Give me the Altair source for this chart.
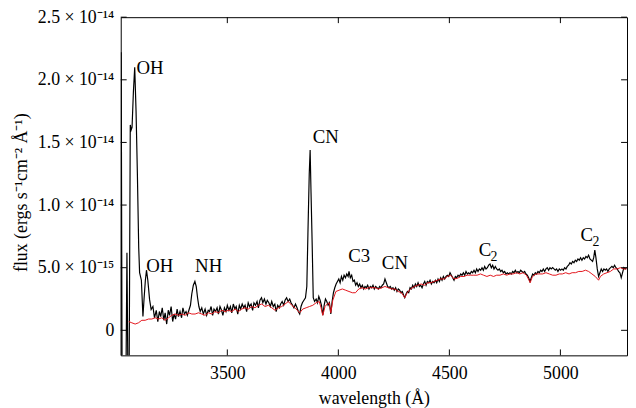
import altair as alt
import pandas as pd

# ---------------- data (flux in units of 1e-15 erg s^-1 cm^-2 A^-1) ----------------
obs_wl = [3019, 3022, 3026, 3030, 3044, 3048, 3052, 3058, 3063, 3067, 3071, 3077, 3083, 3089,
          3095, 3101, 3105, 3113, 3120, 3125, 3131, 3136, 3142, 3150, 3157, 3165, 3172, 3180,
          3187, 3194, 3200, 3207, 3214, 3220, 3227, 3234, 3240, 3247, 3254, 3260, 3267, 3274,
          3280, 3287, 3294, 3300, 3307, 3314, 3320, 3327, 3334, 3340, 3347, 3354, 3360, 3366,
          3372, 3378, 3385, 3392, 3400, 3407, 3414, 3420, 3427, 3434, 3440, 3447, 3454, 3460,
          3467, 3474, 3480, 3487, 3494, 3500, 3507, 3514, 3520, 3527, 3534, 3540, 3547, 3554,
          3560, 3567, 3574, 3580, 3587, 3594, 3600, 3607, 3614, 3620, 3627, 3634, 3640, 3647,
          3654, 3660, 3667, 3674, 3680, 3687, 3694, 3700, 3707, 3714, 3720, 3727, 3734, 3740,
          3747, 3754, 3760, 3767, 3774, 3781, 3787, 3794, 3800, 3807, 3814, 3820, 3826, 3832,
          3838, 3845, 3852, 3858, 3863, 3869, 3873, 3877, 3882, 3887, 3893, 3900, 3906, 3912,
          3918, 3924, 3930, 3936, 3942, 3948, 3954, 3960, 3966, 3972, 3978, 3984, 3990, 3996,
          4002, 4008, 4014, 4020, 4026, 4032, 4038, 4044, 4048, 4054, 4060, 4066, 4072, 4078,
          4084, 4090, 4096, 4102, 4108, 4114, 4120, 4126, 4132, 4138, 4144, 4150, 4156, 4162,
          4168, 4174, 4180, 4186, 4192, 4198, 4204, 4210, 4216, 4222, 4228, 4234, 4240, 4246,
          4252, 4258, 4264, 4270, 4276, 4282, 4288, 4294, 4299, 4305, 4311, 4317, 4323, 4329,
          4335, 4341, 4347, 4353, 4359, 4365, 4371, 4377, 4383, 4389, 4395, 4401, 4407, 4413,
          4419, 4425, 4431, 4437, 4443, 4449, 4455, 4461, 4467, 4473, 4479, 4485, 4491, 4497,
          4503, 4509, 4515, 4521, 4527, 4533, 4539, 4545, 4551, 4557, 4563, 4569, 4575, 4581,
          4587, 4593, 4599, 4605, 4611, 4617, 4623, 4629, 4635, 4641, 4647, 4653, 4659, 4665,
          4671, 4677, 4683, 4689, 4695, 4701, 4707, 4713, 4719, 4725, 4731, 4737, 4743, 4749,
          4755, 4761, 4767, 4773, 4779, 4785, 4791, 4797, 4803, 4809, 4815, 4821, 4827, 4833,
          4839, 4845, 4851, 4857, 4863, 4869, 4875, 4881, 4887, 4893, 4899, 4905, 4911, 4917,
          4923, 4929, 4935, 4941, 4947, 4953, 4959, 4965, 4971, 4977, 4983, 4989, 4995, 5001,
          5007, 5013, 5019, 5025, 5031, 5037, 5043, 5049, 5055, 5061, 5067, 5073, 5079, 5085,
          5091, 5097, 5103, 5109, 5115, 5121, 5127, 5133, 5139, 5145, 5150, 5155, 5160, 5166,
          5172, 5178, 5184, 5190, 5196, 5202, 5208, 5214, 5220, 5226, 5232, 5238, 5244, 5250,
          5256, 5262, 5268, 5274, 5280, 5286, 5292, 5298]
obs_flux = [-3.0, 22.2, -3.0, -3.0, -3.0, 6.2, -3.0, -3.0, 16.4, 16.0, 16.2, 19.0, 21.0, 17.5,
            12.5, 6.6, 4.6, 4.0, 1.1, 2.5, 4.0, 4.8, 4.0, 2.45, 1.66, 1.9, 1.0, 1.6,
            0.7, 1.5, 1.1, 1.8, 0.8, 1.4, 0.5, 1.6, 1.2, 1.9, 0.7, 1.3, 0.9, 1.7,
            1.1, 1.5, 1.0, 1.8, 1.3, 1.5, 1.2, 1.6, 2.0, 2.9, 3.6, 3.9, 3.5, 2.6,
            1.9, 1.5, 1.8, 1.3, 1.7, 1.2, 1.6, 1.5, 1.9, 1.2, 1.7, 1.5, 1.8, 1.3,
            1.9, 1.6, 1.2, 1.8, 1.5, 2.0, 1.6, 1.9, 1.4, 2.1, 1.7, 1.9, 1.3, 2.0,
            1.7, 2.1, 1.8, 2.0, 1.5, 2.2, 1.9, 2.1, 1.6, 2.2, 2.0, 2.3, 1.8, 2.4,
            2.6, 2.2, 2.5, 2.1, 2.4, 2.2, 1.9, 2.3, 1.9, 2.1, 1.5, 2.0, 1.8, 2.1,
            2.3, 2.0, 2.4, 2.6, 2.3, 2.5, 2.2, 2.0, 1.8, 2.1, 1.8, 1.5, 1.3, 1.9,
            2.2, 2.4, 2.6, 3.5, 7.7, 12.5, 14.4, 11.0, 7.0, 2.6, 2.3, 2.5, 2.2, 2.7,
            2.4, 2.0, 1.2, 2.0, 2.5, 2.3, 2.0, 2.2, 1.3, 2.3, 3.0, 3.4, 3.7, 3.9,
            4.1, 3.8, 4.3, 4.0, 4.4, 4.2, 4.5, 4.3, 4.7, 4.2, 4.4, 3.9, 4.0, 3.6,
            3.8, 3.5, 3.7, 3.4, 3.6, 3.3, 3.5, 3.4, 3.6, 3.3, 3.5, 3.4, 3.6, 3.3,
            3.5, 3.4, 3.3, 3.5, 3.4, 3.6, 3.7, 4.1, 3.8, 3.5, 3.4, 3.5, 3.3, 3.4,
            3.2, 3.4, 3.1, 3.3, 3.2, 3.0, 3.1, 2.8, 2.6, 2.9, 3.1, 3.0, 3.4, 3.3,
            3.6, 3.4, 3.7, 3.5, 3.8, 3.5, 3.6, 3.4, 3.7, 3.9, 3.6, 3.9, 3.8, 4.0,
            3.7, 3.9, 3.8, 4.0, 3.8, 4.1, 3.9, 4.2, 4.0, 4.3, 4.1, 4.3, 4.4, 4.3,
            4.6, 4.4, 4.2, 4.0, 4.3, 4.2, 4.4, 4.3, 4.5, 4.4, 4.6, 4.4, 4.7, 4.5,
            4.6, 4.5, 4.7, 4.6, 4.8, 4.6, 4.9, 4.7, 4.9, 4.8, 5.0, 4.8, 5.1, 4.9,
            5.0, 5.2, 5.3, 5.0, 5.2, 4.9, 5.1, 4.9, 4.8, 4.9, 4.7, 4.8, 4.6, 4.7,
            4.5, 4.6, 4.5, 4.6, 4.5, 4.7, 4.6, 4.8, 4.6, 4.7, 4.6, 4.8, 4.7, 4.6,
            4.7, 4.5, 4.4, 4.2, 3.9, 4.2, 4.5, 4.4, 4.6, 4.5, 4.7, 4.6, 4.8, 4.7,
            4.9, 4.7, 4.9, 5.0, 4.8, 5.0, 4.9, 5.0, 4.9, 4.8, 4.9, 4.7, 4.9, 4.8,
            4.9, 4.8, 5.0, 4.9, 5.1, 5.2, 5.4, 5.3, 5.5, 5.4, 5.6, 5.5, 5.7, 5.6,
            5.8, 5.6, 5.8, 5.7, 5.9, 5.8, 6.0, 5.7, 5.6, 5.5, 5.8, 6.4, 5.8, 4.9,
            4.3, 4.6, 4.9, 4.7, 4.9, 4.8, 4.9, 4.7, 4.9, 5.0, 5.1, 5.0, 5.2, 5.0,
            4.9, 4.7, 4.6, 4.2, 4.6, 5.0, 4.9, 5.0]

sun_wl = [3056, 3070, 3085, 3100, 3115, 3130, 3145, 3160, 3175, 3190, 3205, 3220, 3235, 3250,
          3265, 3280, 3295, 3310, 3325, 3340, 3355, 3370, 3385, 3400, 3415, 3430, 3445, 3460,
          3475, 3490, 3505, 3520, 3535, 3550, 3565, 3580, 3595, 3610, 3625, 3640, 3655, 3670,
          3685, 3700, 3715, 3730, 3745, 3760, 3775, 3790, 3805, 3815, 3826, 3840, 3855, 3870,
          3885, 3900, 3914, 3922, 3930, 3940, 3950, 3959, 3966, 3975, 3989, 4003, 4018, 4033,
          4048, 4063, 4077, 4092, 4107, 4122, 4136, 4151, 4166, 4181, 4196, 4210, 4225, 4240,
          4255, 4270, 4284, 4292, 4299, 4310, 4325, 4343, 4358, 4373, 4388, 4403, 4418, 4432,
          4447, 4462, 4477, 4491, 4506, 4521, 4536, 4551, 4566, 4580, 4595, 4610, 4625, 4640,
          4654, 4669, 4684, 4699, 4713, 4728, 4743, 4758, 4773, 4787, 4802, 4817, 4832, 4847,
          4856, 4864, 4872, 4880, 4891, 4906, 4920, 4935, 4950, 4965, 4980, 4995, 5009, 5024,
          5039, 5053, 5068, 5083, 5098, 5113, 5127, 5142, 5157, 5167, 5172, 5180, 5195, 5210,
          5225, 5240, 5255, 5270, 5285, 5298]
sun_flux = [0.7, 0.6, 0.5, 0.6, 0.8, 0.8, 0.9, 0.9, 1.0, 0.9, 1.0, 0.8, 1.0, 1.2,
            1.3, 1.2, 1.3, 1.2, 1.4, 1.3, 1.3, 1.4, 1.3, 1.2, 1.4, 1.3, 1.5, 1.4,
            1.6, 1.5, 1.6, 1.5, 1.7, 1.5, 1.7, 1.8, 1.7, 1.9, 1.8, 2.0, 2.1, 1.9,
            2.0, 1.8, 1.6, 1.8, 1.9, 2.1, 2.3, 2.0, 1.8, 1.6, 1.4, 1.7, 1.8, 1.9,
            2.0, 2.2, 2.3, 1.8, 1.2, 1.9, 2.1, 2.2, 1.4, 2.4, 3.1, 3.2, 3.3, 3.2,
            3.1, 3.0, 3.0, 3.3, 3.4, 3.3, 3.4, 3.4, 3.4, 3.3, 3.4, 3.5, 3.4, 3.3,
            3.3, 3.1, 3.0, 2.8, 2.6, 3.0, 3.3, 3.5, 3.6, 3.7, 3.6, 3.8, 3.8, 3.9,
            4.0, 4.1, 4.1, 4.3, 4.4, 4.1, 4.15, 4.3, 4.3, 4.4, 4.4, 4.4, 4.4, 4.5,
            4.4, 4.3, 4.4, 4.3, 4.4, 4.4, 4.5, 4.4, 4.5, 4.5, 4.6, 4.5, 4.6, 4.4,
            4.1, 3.8, 4.2, 4.4, 4.5, 4.5, 4.5, 4.6, 4.5, 4.4, 4.4, 4.5, 4.5, 4.6,
            4.5, 4.6, 4.6, 4.7, 4.7, 4.8, 4.7, 4.5, 4.3, 4.1, 4.0, 4.3, 4.5, 4.6,
            4.7, 4.9, 4.9, 5.0, 4.9, 4.9]

x_tick_values = [3500, 4000, 4500, 5000]
y_tick_values = [0, 5, 10, 15, 20, 25]
y_tick_labels = ["0", "5.0 × 10⁻¹⁵", "1.0 × 10⁻¹⁴", "1.5 × 10⁻¹⁴", "2.0 × 10⁻¹⁴", "2.5 × 10⁻¹⁴"]

label_text = ["OH", "OH", "NH", "CN", "C3", "CN", "C", "C"]
label_sub = ["", "", "", "", "", "", "2", "2"]
label_wl = [3091, 3135, 3355, 3885, 4045, 4196, 4632, 5091]
label_flux = [20.9, 5.1, 5.1, 15.4, 5.9, 5.4, 6.4, 7.6]

# ---------------- chart ----------------
W, H = 512, 342
SERIF = "Liberation Serif"

obs = pd.DataFrame({"wl": obs_wl, "flux": obs_flux})
sun = pd.DataFrame({"wl": sun_wl, "flux": sun_flux})
labels = pd.DataFrame({"wl": label_wl, "flux": label_flux, "text": label_text, "sub": label_sub})
xt = pd.DataFrame({"wl": x_tick_values})
yt = pd.DataFrame({"flux": y_tick_values})

xscale = alt.Scale(domain=[3020, 5300], nice=False, zero=False)
yscale = alt.Scale(domain=[-2, 25], nice=False, zero=False)

label_expr = " : ".join(
    f"datum.value == {v} ? '{t}'" for v, t in zip(y_tick_values, y_tick_labels)
) + " : ''"

xaxis = alt.Axis(values=x_tick_values, format="d", ticks=False, domain=False, grid=False,
                 labelFont=SERIF, labelFontSize=18, labelColor="black", labelPadding=9,
                 title="wavelength (Å)", titleFont=SERIF, titleFontSize=18,
                 titleFontWeight="normal", titleColor="black", titlePadding=8)
yaxis = alt.Axis(values=y_tick_values, ticks=False, domain=False, grid=False,
                 labelExpr=label_expr, labelFont=SERIF, labelFontSize=18,
                 labelColor="black", labelPadding=7,
                 title="flux (ergs s⁻¹cm⁻² Å⁻¹)", titleFont=SERIF, titleFontSize=18,
                 titleFontWeight="normal", titleColor="black",
                 titleAngle=270, titleBaseline="middle", titleAlign="center",
                 titleX=-100, titleY=177)

X = alt.X("wl:Q", scale=xscale, axis=xaxis)
Y = alt.Y("flux:Q", scale=yscale, axis=yaxis)

black = alt.Chart(obs).mark_line(color="black", strokeWidth=1.2, clip=True).encode(x=X, y=Y)
red = alt.Chart(sun).mark_line(color="#e3141b", strokeWidth=1.0, clip=True).encode(x=X, y=Y)

txt = alt.Chart(labels).mark_text(align="left", baseline="middle", font=SERIF,
                                  fontSize=19, color="black").encode(x=X, y=Y, text="text:N")
sub = alt.Chart(labels).transform_filter("datum.sub != ''").mark_text(
    align="left", baseline="middle", font=SERIF, fontSize=14, color="black",
    dx=12, dy=7).encode(x=X, y=Y, text="sub:N")

tick_b = alt.Chart(xt).mark_rule(color="black", strokeWidth=1).encode(
    x=alt.X("wl:Q", scale=xscale, axis=xaxis), y=alt.value(H), y2=alt.value(H - 6))
tick_t = alt.Chart(xt).mark_rule(color="black", strokeWidth=1).encode(
    x=alt.X("wl:Q", scale=xscale, axis=xaxis), y=alt.value(0), y2=alt.value(6))
tick_l = alt.Chart(yt).mark_rule(color="black", strokeWidth=1).encode(
    y=alt.Y("flux:Q", scale=yscale, axis=yaxis), x=alt.value(0), x2=alt.value(6))
tick_r = alt.Chart(yt).mark_rule(color="black", strokeWidth=1).encode(
    y=alt.Y("flux:Q", scale=yscale, axis=yaxis), x=alt.value(W), x2=alt.value(W - 6))

chart = alt.layer(black, red, txt, sub, tick_b, tick_t, tick_l, tick_r).properties(
    width=W, height=H,
    autosize=alt.AutoSizeParams(type="none"),
    padding={"left": 114, "top": 7, "right": 1, "bottom": 56},
    background="white",
).configure_view(stroke="black", strokeWidth=1)

chart.save("out.html", embed_options={"renderer": "svg", "actions": False})
